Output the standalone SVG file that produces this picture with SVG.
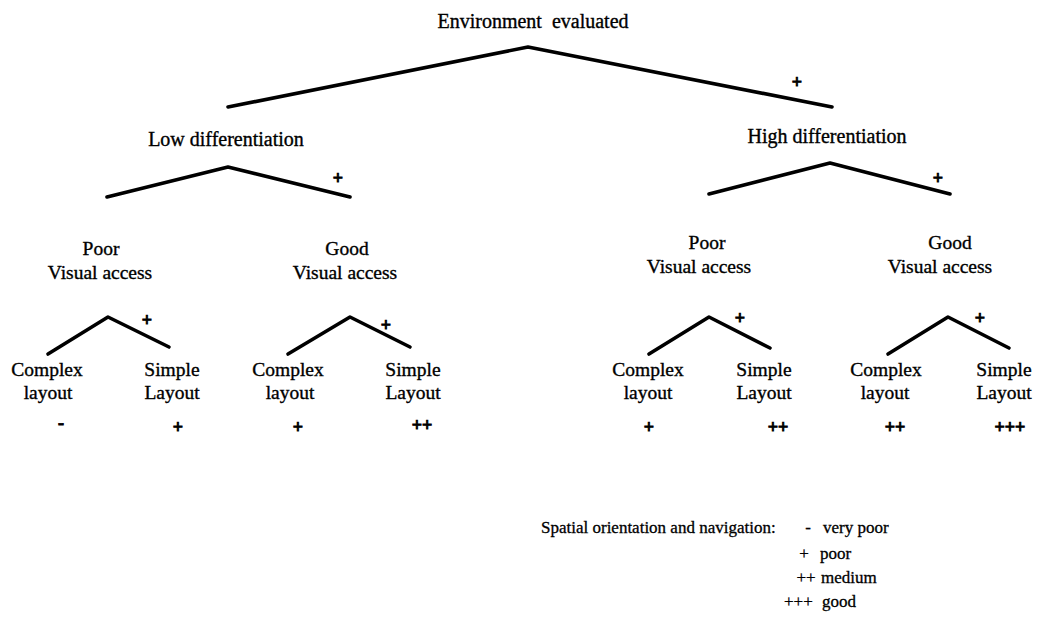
<svg xmlns="http://www.w3.org/2000/svg" width="1044" height="618" viewBox="0 0 1044 618">
  <style>
    text { font-family: "Liberation Serif", "Times New Roman", serif; fill: #000; }
    .lbl { font-size: 19.5px; text-anchor: middle; stroke: #000; stroke-width: 0.35px; }
    .top { font-size: 20px; }
    .sg { font-size: 18px; font-weight: bold; text-anchor: middle; stroke: #000; stroke-width: 0.9px; }
    .leg { font-size: 17px; stroke: #000; stroke-width: 0.3px; }
    .branch { fill: none; stroke: #000; stroke-width: 3.6; stroke-linecap: round; stroke-linejoin: round; }
  </style>

  <rect width="1044" height="618" fill="#fff"/>

  <!-- branching lines -->
  <g id="connectors">
    <polyline class="branch" points="228,107 528,47 832,107"/>
    <polyline class="branch" points="107,197 228,167 350,197"/>
    <polyline class="branch" points="709,194 830,163 950,194"/>
    <polyline class="branch" points="48,354 108,317 169,347"/>
    <polyline class="branch" points="288,354 350,317 410,347"/>
    <polyline class="branch" points="649,354 709,317 770,348"/>
    <polyline class="branch" points="888,354 948,317 1009,348"/>
  </g>

  <!-- branch signs -->
  <g id="branch-signs">
    <text class="sg" x="797" y="88">+</text>
    <text class="sg" x="338" y="184">+</text>
    <text class="sg" x="938" y="184">+</text>
    <text class="sg" x="147" y="326">+</text>
    <text class="sg" x="386" y="331">+</text>
    <text class="sg" x="740" y="324">+</text>
    <text class="sg" x="980" y="324">+</text>
  </g>

  <g id="root">
    <text class="lbl top" x="533" y="28" xml:space="preserve">Environment  evaluated</text>
  </g>

  <g id="low-diff">
    <text class="lbl top" x="226" y="146">Low differentiation</text>
  </g>
  <g id="high-diff">
    <text class="lbl top" x="827" y="143">High differentiation</text>
  </g>

  <g id="low-poor">
    <text class="lbl" x="101" y="255">Poor</text>
    <text class="lbl" x="100" y="279">Visual access</text>
  </g>
  <g id="low-good">
    <text class="lbl" x="347" y="255">Good</text>
    <text class="lbl" x="345" y="279">Visual access</text>
  </g>
  <g id="high-poor">
    <text class="lbl" x="707" y="249">Poor</text>
    <text class="lbl" x="699" y="273">Visual access</text>
  </g>
  <g id="high-good">
    <text class="lbl" x="950" y="249">Good</text>
    <text class="lbl" x="940" y="273">Visual access</text>
  </g>

  <!-- leaves -->
  <g id="leaf-1">
    <text class="lbl" x="47" y="376">Complex</text>
    <text class="lbl" x="48" y="399">layout</text>
    <text class="sg" x="61" y="429">-</text>
  </g>
  <g id="leaf-2">
    <text class="lbl" x="172" y="376">Simple</text>
    <text class="lbl" x="172" y="399">Layout</text>
    <text class="sg" x="178" y="433">+</text>
  </g>
  <g id="leaf-3">
    <text class="lbl" x="288" y="376">Complex</text>
    <text class="lbl" x="290" y="399">layout</text>
    <text class="sg" x="298" y="433">+</text>
  </g>
  <g id="leaf-4">
    <text class="lbl" x="413" y="376">Simple</text>
    <text class="lbl" x="413" y="399">Layout</text>
    <text class="sg" x="422" y="431">++</text>
  </g>
  <g id="leaf-5">
    <text class="lbl" x="648" y="376">Complex</text>
    <text class="lbl" x="648" y="399">layout</text>
    <text class="sg" x="649" y="433">+</text>
  </g>
  <g id="leaf-6">
    <text class="lbl" x="764" y="376">Simple</text>
    <text class="lbl" x="764" y="399">Layout</text>
    <text class="sg" x="778" y="433">++</text>
  </g>
  <g id="leaf-7">
    <text class="lbl" x="886" y="376">Complex</text>
    <text class="lbl" x="885" y="399">layout</text>
    <text class="sg" x="895" y="433">++</text>
  </g>
  <g id="leaf-8">
    <text class="lbl" x="1004" y="376">Simple</text>
    <text class="lbl" x="1004" y="399">Layout</text>
    <text class="sg" x="1010" y="433">+++</text>
  </g>

  <!-- key -->
  <g id="legend">
    <text class="leg" x="541" y="533">Spatial orientation and navigation:</text>
    <text class="leg" x="808" y="533" text-anchor="middle">-</text>
    <text class="leg" x="823" y="533">very poor</text>
    <text class="leg" x="804" y="559" text-anchor="middle">+</text>
    <text class="leg" x="820" y="559">poor</text>
    <text class="leg" x="806" y="583" text-anchor="middle">++</text>
    <text class="leg" x="821" y="583">medium</text>
    <text class="leg" x="784" y="607">+++</text>
    <text class="leg" x="822" y="607">good</text>
  </g>
</svg>
